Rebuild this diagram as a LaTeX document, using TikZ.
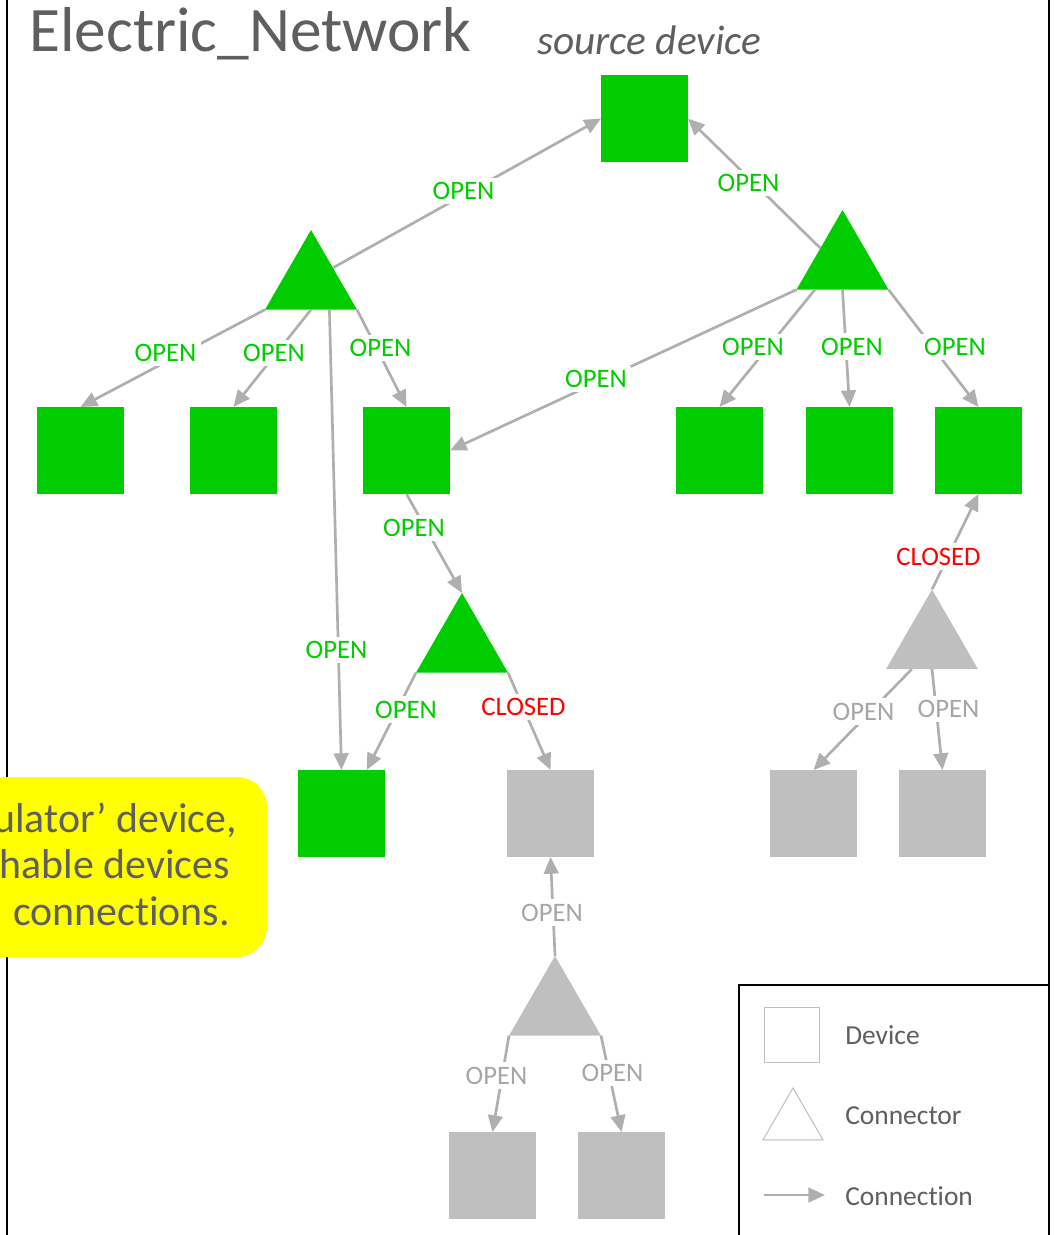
\documentclass[tikz,border=0pt]{standalone}
\usepackage{fontspec}
\setmainfont{Carlito}[Ligatures={NoCommon}]
\usetikzlibrary{shapes.geometric,arrows.meta,calc}
\definecolor{devgreen}{HTML}{00CC00}
\definecolor{offgray}{HTML}{BFBFBF}
\definecolor{linkgray}{HTML}{AFAFAF}
\definecolor{inkgray}{HTML}{5F5F5F}
\definecolor{offtext}{HTML}{A6A6A6}
\definecolor{closedred}{HTML}{FF0000}
\definecolor{notebg}{HTML}{FFFF00}

\tikzset{
  device/.style={rectangle, minimum size=65.25pt, inner sep=0pt, outer sep=0pt, fill=devgreen},
  deviceoff/.style={device, fill=offgray},
  joint/.style={regular polygon, regular polygon sides=3, minimum size=79.7pt,
                inner sep=0pt, outer sep=0pt, fill=devgreen},
  jointoff/.style={joint, fill=offgray},
  link/.style={draw=linkgray, line width=2pt, -{Triangle[length=12.5pt,width=11pt]}},
  lbl/.style={fill=white, text=devgreen, font=\fontsize{20}{24}\selectfont},
  lbloff/.style={lbl, text=offtext},
  lblclosed/.style={lbl, text=closedred},
  legtext/.style={anchor=base west, inner sep=0pt, text=inkgray, font=\fontsize{20.6}{25}\selectfont},
  notetext/.style={anchor=base east, inner sep=0pt, text=inkgray, font=\fontsize{31.4}{38}\selectfont},
  frameline/.style={draw=black, line width=1.5pt}
}

\begin{document}
\begin{tikzpicture}[x=0.75pt,y=-0.75pt]
  % page
  \fill[white] (0,0) rectangle (1060,1235);
  \useasboundingbox (0,0) rectangle (1060,1235);

  % outer frame
  \draw[frameline] (6.5,-20) -- (6.5,1255);
  \draw[frameline] (1049,-20) -- (1049,1255);

  % title and caption
  \node[anchor=base west, inner sep=0pt, text=inkgray, font=\fontsize{47.5}{57}\selectfont] (title) at (29,51.5) {Electric\_Network};
  \node[anchor=base west, inner sep=0pt, text=inkgray, font=\fontsize{31}{37}\selectfont\itshape] (srccap) at (537,54) {source device};

  % devices
  \node[device] (src) at (644.5,118.5) {};
  \node[device] (d1) at (80.5,450.5) {};
  \node[device] (d2) at (233.5,450.5) {};
  \node[device] (d3) at (406.5,450.5) {};
  \node[device] (d4) at (719.5,450.5) {};
  \node[device] (d5) at (849.5,450.5) {};
  \node[device] (d6) at (978.5,450.5) {};
  \node[device] (g1) at (341.5,813.5) {};
  \node[deviceoff] (x1) at (550.5,813.5) {};
  \node[deviceoff] (x2) at (813.5,813.5) {};
  \node[deviceoff] (x3) at (942.5,813.5) {};
  \node[deviceoff] (b1) at (492.5,1175.5) {};
  \node[deviceoff] (b2) at (621.5,1175.5) {};

  % connectors
  \node[joint] (t1) at (311,283.1) {};
  \node[joint] (t2) at (842.5,263.1) {};
  \node[joint] (t3) at (462,646.1) {};
  \node[jointoff] (t4) at (932,642.6) {};
  \node[jointoff] (t5) at (555,1009.1) {};

  % connections
  \draw[link] ($(t1.corner 1)!0.475!(t1.corner 3)$) -- (src.west);
  \draw[link] ($(t2.corner 1)!0.48!(t2.corner 2)$) -- (src.east);
  \draw[link] (t1.corner 2) -- (d1.north);
  \draw[link] (t1.south) -- (d2.north);
  \draw[link] (t1.corner 3) -- (d3.north);
  \draw[link] ($(t1.corner 2)!0.7!(t1.corner 3)$) -- (g1.north);
  \draw[link] (t2.corner 2) -- (d3.east);
  \draw[link] ($(t2.corner 2)!0.2!(t2.corner 3)$) -- (d4.north);
  \draw[link] (t2.south) -- (d5.north);
  \draw[link] (t2.corner 3) -- (d6.north);
  \draw[link] (d3.south) -- (t3.corner 1);
  \draw[link] (t3.corner 2) -- ($(g1.north west)!0.79!(g1.north east)$);
  \draw[link] (t3.corner 3) -- (x1.north);
  \draw[link] (t4.corner 1) -- (d6.south);
  \draw[link] ($(t4.corner 2)!0.28!(t4.corner 3)$) -- (x2.north);
  \draw[link] (t4.south) -- (x3.north);
  \draw[link] (t5.corner 1) -- (x1.south);
  \draw[link] (t5.corner 2) -- (b1.north);
  \draw[link] (t5.corner 3) -- (b2.north);

  % connection states
  \node[lbl] (s1) at (463.5,191) {OPEN};
  \node[lbl] (s2) at (748.5,183) {OPEN};
  \node[lbl] (s3) at (165.5,353) {OPEN};
  \node[lbl] (s4) at (274,353) {OPEN};
  \node[lbl] (s5) at (380.5,348) {OPEN};
  \node[lbl] (s6) at (336.5,650) {OPEN};
  \node[lbl] (s7) at (596,379) {OPEN};
  \node[lbl] (s8) at (753,347) {OPEN};
  \node[lbl] (s9) at (852,346.5) {OPEN};
  \node[lbl] (s10) at (955,347) {OPEN};
  \node[lbl] (s11) at (414,528) {OPEN};
  \node[lbl] (s12) at (406,709.5) {OPEN};
  \node[lblclosed] (s13) at (523.5,707) {CLOSED};
  \node[lblclosed] (s14) at (938.5,556.5) {CLOSED};
  \node[lbloff] (s15) at (863.5,711.5) {OPEN};
  \node[lbloff] (s16) at (948.5,709) {OPEN};
  \node[lbloff] (s17) at (552,912.5) {OPEN};
  \node[lbloff] (s18) at (496.5,1075.5) {OPEN};
  \node[lbloff] (s19) at (612.5,1073) {OPEN};

  % note
  \fill[notebg, rounded corners=22.5pt] (-60,777) rectangle (267,957);
  \node[notetext] (n1) at (237,832) {ulator’ device,};
  \node[notetext] (n2) at (230,878) {hable devices};
  \node[notetext] (n3) at (230,925) {connections.};

  % legend
  \draw[frameline, fill=white] (738.5,1255) -- (738.5,984.5) -- (1049,984.5) -- (1049,1255);
  \node[rectangle, minimum size=41.25pt, inner sep=0pt, outer sep=0pt, draw=offgray, line width=0.75pt] (kdev) at (791.5,1034.5) {};
  \node[regular polygon, regular polygon sides=3, minimum size=52pt, inner sep=0pt, outer sep=0pt, draw=offgray, line width=0.75pt] (kjoint) at (793,1122.6) {};
  \coordinate (ka) at (764,1195);
  \coordinate (kb) at (825,1195);
  \draw[link] (ka) -- (kb);
  \node[legtext] (kt1) at (845,1044) {Device};
  \node[legtext] (kt2) at (845,1124) {Connector};
  \node[legtext] (kt3) at (845,1205) {Connection};
\end{tikzpicture}
\end{document}
